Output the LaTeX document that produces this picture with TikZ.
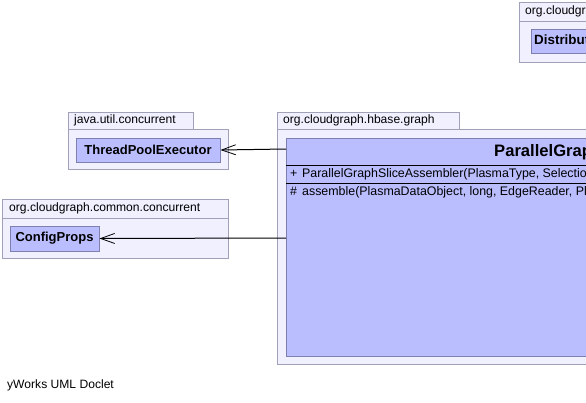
\documentclass[tikz,border=0pt]{standalone}
\usepackage{fontspec}
\setmainfont{Liberation Sans}
\usetikzlibrary{arrows.meta}
\definecolor{pkgfill}{RGB}{240,240,255}
\definecolor{pkgline}{RGB}{160,160,184}
\definecolor{clsfill}{RGB}{186,190,255}
\definecolor{clsline}{RGB}{128,128,176}
\tikzset{
  pkg/.style={draw=pkgline,fill=pkgfill,line width=1pt},
  pkglabel/.style={anchor=west,inner sep=0pt,font=\fontsize{12.1}{14}\selectfont},
  cls/.style={draw=clsline,fill=clsfill,line width=1pt,inner sep=0pt,font=\bfseries\fontsize{13}{15}\selectfont},
  member/.style={anchor=west,inner sep=0pt,font=\fontsize{12.4}{14}\selectfont},
  dep/.style={line width=1pt,-{Straight Barb[length=14pt,width=10pt,line width=0.8pt]}}
}
\begin{document}
\begin{tikzpicture}[x=1pt,y=-1pt]
\useasboundingbox (0,0) rectangle (586,402);
\clip (0,0) rectangle (586,402);
% package java.util.concurrent
\draw[pkg] (68,112) rectangle (193,129);
\draw[pkg] (68,129) rectangle (228,169);
\node[pkglabel] (p1) at (74,120.5) {java.util.concurrent};
\node[cls,minimum width=144pt,minimum height=24pt] (tpe) at (148,150) {ThreadPoolExecutor};
% package org.cloudgraph.common.concurrent
\draw[pkg] (2,199) rectangle (228,218);
\draw[pkg] (2,218) rectangle (228,258);
\node[pkglabel] (p2) at (9,208.5) {org.cloudgraph.common.concurrent};
\node[cls,minimum width=89pt,minimum height=25pt] (cp) at (54.5,238.5) {ConfigProps};
% package org.cloudgraph.hbase.graph
\draw[pkg] (277,112) rectangle (459,129);
\draw[pkg] (277,129) rectangle (940,364);
\node[pkglabel] (p3) at (283,120.5) {org.cloudgraph.hbase.graph};
\node[cls,minimum width=640pt,minimum height=218pt,anchor=north west] (main) at (286,138) {};
\node[anchor=west,inner sep=0pt,font=\bfseries\fontsize{16.6}{19}\selectfont] (title) at (494,152) {ParallelGraphSliceAssembler};
\draw[line width=1pt] (286,165) -- (926,165);
\draw[line width=1pt] (286,183) -- (926,183);
\node[member] (plus) at (290,173.5) {+};
\node[member] (ctor) at (302,174) {ParallelGraphSliceAssembler(PlasmaType, SelectionCollector, ServiceContext)};
\node[member] (hash) at (290,191.5) {\#};
\node[member] (meth) at (302,192) {assemble(PlasmaDataObject, long, EdgeReader, PlasmaDataObject, RowReader, int)};
% top right package
\draw[pkg] (519,2) rectangle (700,21);
\draw[pkg] (519,21) rectangle (700,62);
\node[pkglabel] (p4) at (525,11.5) {org.cloudgraph.hbase.scan};
\node[cls,minimum width=120pt,minimum height=24pt,anchor=north west] (dist) at (531,29) {};
\node[anchor=west,inner sep=0pt,font=\bfseries\fontsize{13.4}{15}\selectfont] (distt) at (534,41) {DistributedGraphReader};
% connectors
\coordinate (m1) at (286,149);
\coordinate (m2) at (286,238);
\draw[dep] (m1) -- (tpe.east);
\draw[dep] (m2) -- (cp.east);
% footer
\node[anchor=west,inner sep=0pt,font=\fontsize{12.1}{14}\selectfont] (foot) at (7,385) {yWorks UML Doclet};
\end{tikzpicture}
\end{document}
